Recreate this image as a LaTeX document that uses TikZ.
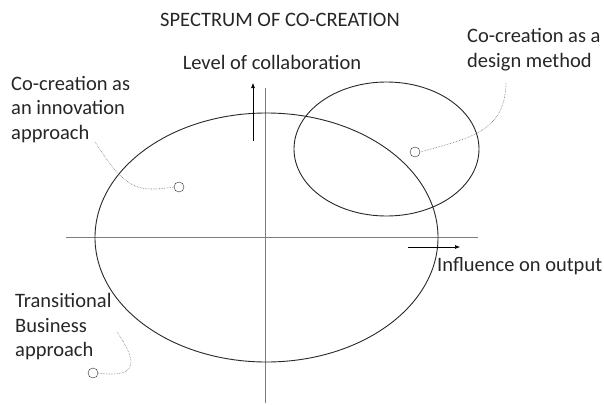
\documentclass[tikz,border=0pt]{standalone}
\usepackage{fontspec}
\setmainfont{Carlito}
\usetikzlibrary{positioning,arrows.meta}
\definecolor{trazo}{RGB}{40,40,40}
\definecolor{ejegris}{RGB}{125,125,125}
\definecolor{puntos}{RGB}{120,120,120}

\begin{document}
\begin{tikzpicture}[x=1pt, y=-1pt,
  etiqueta/.style={font=\fontsize{20.5}{24.5}\selectfont, align=left,
                   inner sep=0pt, text=black!85},
  punto/.style={draw=trazo, circle, minimum size=10pt, inner sep=0pt},
  eje/.style={draw=ejegris, line width=0.7pt},
  zona/.style={draw=trazo, line width=0.9pt},
  flecha/.style={-{Latex[length=5pt,width=4pt]}, line width=0.6pt, draw=black},
  conector/.style={draw=puntos, densely dotted, line width=0.6pt}]
  \useasboundingbox (0,0) rectangle (604,404);
  % ejes y zonas
  \draw[eje] (265,88) -- (265,403);
  \draw[eje] (66,237) -- (478,237);
  \draw[zona] (266.5,237.5) ellipse [x radius=171.5pt, y radius=124.5pt];
  \draw[zona] (386.5,149) ellipse [x radius=92.5pt, y radius=67pt];
  \draw[flecha] (253,141) -- (253,83);
  \draw[flecha] (408,247) -- (460,247);
  % textos
  \node[etiqueta] (titulo) at (280,20) {SPECTRUM OF CO-CREATION};
  \node[etiqueta] (nivel) at (272,62) {Level of collaboration};
  \node[etiqueta, anchor=west] (influ) at (437,266) {Influence on output};
  \node[etiqueta, anchor=west] (inno) at (11,109.5)
       {Co-creation as\\an innovation\\approach};
  \node[etiqueta, anchor=west] (dise) at (467,49.5)
       {Co-creation as a\\design method};
  \node[etiqueta, anchor=west] (trans) at (15,327)
       {Transitional\\Business\\approach};
  % puntos
  \node[punto] (pinno) at (179,187) {};
  \node[punto] (pdise) at (415,152) {};
  \node[punto] (ptrans) at (93,373) {};
  \coordinate (cinno) at (95,142);
  \coordinate (cdise) at (506,83);
  \coordinate (ctrans) at (117,332);
  \draw[conector] (cinno) .. controls (125,188) and (135,193) .. (pinno.west);
  \draw[conector] (cdise) .. controls (505,132) and (470,138) .. (pdise.east);
  \draw[conector] (ctrans) .. controls (140,365) and (135,378) .. (ptrans.east);
\end{tikzpicture}
\end{document}
